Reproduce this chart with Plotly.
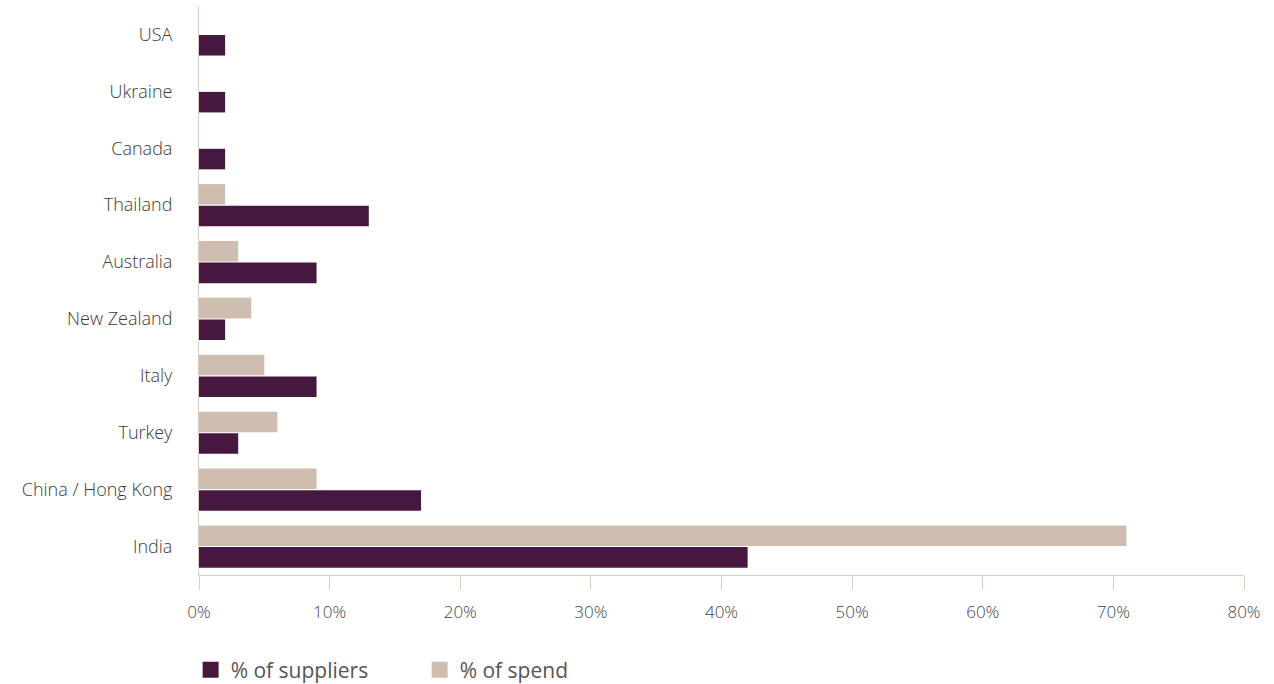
import plotly.graph_objects as go

categories = ["India", "China / Hong Kong", "Turkey", "Italy", "New Zealand",
              "Australia", "Thailand", "Canada", "Ukraine", "USA"]
suppliers = [42, 17, 3, 9, 2, 9, 13, 2, 2, 2]
spend = [71, 9, 6, 5, 4, 3, 2, None, None, None]
tick_vals = [0, 10, 20, 30, 40, 50, 60, 70, 80]
tick_text = ["0%", "10%", "20%", "30%", "40%", "50%", "60%", "70%", "80%"]

DARK = "#461840"
LIGHT = "#CFBDAF"
AXIS = "#DACDC3"
FONT = "Open Sans"

fig = go.Figure()
fig.add_trace(go.Bar(y=categories, x=suppliers, orientation="h", name="% of suppliers",
                     marker=dict(color=DARK, line=dict(width=0)), showlegend=False))
fig.add_trace(go.Bar(y=categories, x=spend, orientation="h", name="% of spend",
                     marker=dict(color=LIGHT, line=dict(width=0)), showlegend=False))
# legend entries
fig.add_trace(go.Scatter(x=[None], y=[None], mode="markers", name="% of suppliers",
                         marker=dict(symbol="square", size=20, color=DARK)))
fig.add_trace(go.Scatter(x=[None], y=[None], mode="markers", name="% of spend",
                         marker=dict(symbol="square", size=20, color=LIGHT)))

fig.update_layout(
    width=1274, height=684,
    margin=dict(l=199, r=30, t=6, b=109, autoexpand=False),
    paper_bgcolor="white", plot_bgcolor="white",
    barmode="group", bargap=0.24, bargroupgap=0.05,
    font=dict(family=FONT, color="#555555"),
    showlegend=True,
    legend=dict(orientation="h", x=-0.008, xanchor="left", y=-0.167, yanchor="middle",
                font=dict(size=21, color="#555555", family=FONT),
                entrywidth=184, entrywidthmode="pixels", itemsizing="trace"),
    xaxis=dict(range=[0, 80], tickmode="array", tickvals=tick_vals, ticktext=tick_text,
               showgrid=False, zeroline=False, showline=True, linecolor=AXIS, linewidth=1,
               ticks="outside", ticklen=14, tickcolor=AXIS, tickwidth=1, ticklabelstandoff=8,
               tickfont=dict(size=17, color="#444444", family=FONT, weight=300)),
    yaxis=dict(categoryorder="array", categoryarray=categories,
               showgrid=False, zeroline=False, showline=True, linecolor=AXIS, linewidth=1,
               ticks="", ticklabelstandoff=22,
               tickfont=dict(size=18, color="#3a3a3a", family=FONT, weight=300)),
)

fig.write_html("out.html", config={"displayModeBar": False},
               post_script="document.body.style.margin='0';")
